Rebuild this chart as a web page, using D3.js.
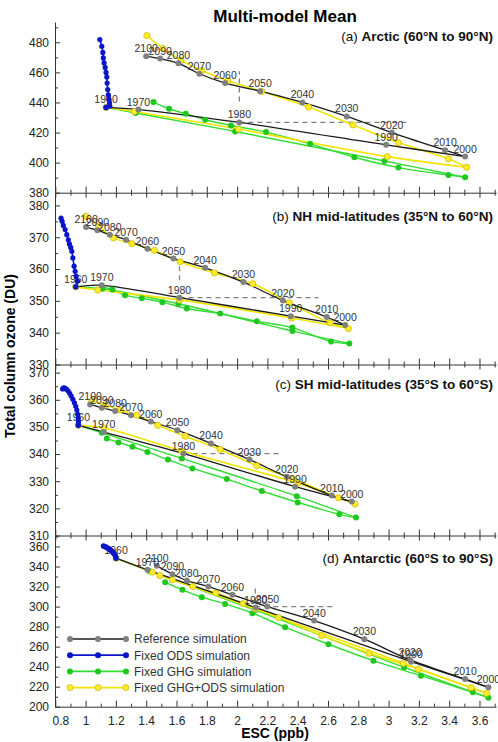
<!DOCTYPE html>
<html>
<head>
<meta charset="utf-8">
<script src="https://cdn.jsdelivr.net/npm/d3@7"></script>
<style>
    body { margin: 0; background: #fff; }
    text { font-family: "Liberation Sans", Arial, sans-serif; }
</style>
</head>
<body>
<div id="viz"></div>
<script>
let years = [1960, 1970, 1980, 1990, 2000, 2010, 2020, 2030, 2040, 2050, 2060, 2070, 2080, 2090, 2100];
let seriesNames = ['Reference simulation', 'Fixed ODS simulation', 'Fixed GHG simulation', 'Fixed GHG+ODS simulation'];

// [ESC (ppb), total column ozone (DU)] for each decade, 1960..2100

// (a) Arctic
let refA = [[1.135, 436.7], [1.349, 435.3], [2.015, 426.7], [2.984, 411.8], [3.505, 404], [3.373, 408.3], [3.021, 420], [2.724, 430.7],
    [2.431, 440], [2.152, 447.5], [1.921, 452.9], [1.751, 459.1], [1.613, 466], [1.492, 469.2], [1.40, 470.7]];
let odsA = [[1.135, 436.7], [1.16, 437.6], [1.158, 439.6], [1.154, 442.2], [1.150, 445], [1.146, 448.6], [1.142, 452.9], [1.140, 456.9],
    [1.135, 460], [1.129, 463.3], [1.122, 466.3], [1.117, 469.6], [1.114, 473.3], [1.107, 477.3], [1.094, 481.8]];
let ghgA = [[1.135, 436.7], [1.33, 433], [1.987, 420.7], [2.973, 401.1], [3.505, 390.3], [3.395, 391.8], [3.065, 396.7], [2.774, 403.6],
    [2.482, 412.5], [2.191, 420.3], [1.960, 424.7], [1.789, 428.5], [1.661, 432.5], [1.551, 435.8], [1.448, 440.3]];
let bothA = [[1.135, 436.7], [1.322, 434], [2.009, 422.3], [2.992, 404], [3.516, 396.9], [3.395, 402.5], [3.065, 413.3], [2.764, 425.1],
    [2.471, 436.9], [2.163, 447.3], [1.939, 454.5], [1.767, 461.3], [1.63, 468], [1.51, 476], [1.404, 484.5]];
let dashA = [[[2.015, 426.7], [3.13, 426.7]], [[2.015, 440.7], [2.015, 460.7]]];

// (b) NH mid-latitudes
let refB = [[0.935, 354.4], [1.107, 354.9], [1.62, 351], [2.354, 345.2], [2.713, 342.4], [2.592, 344.9], [2.302, 350.1], [2.042, 355.9],
    [1.789, 360.4], [1.58, 363.3], [1.408, 366.4], [1.267, 369.2], [1.16, 370.8], [1.078, 372.2], [1.003, 373.2]];
let odsB = [[0.935, 354.4], [0.946, 356.2], [0.937, 357.7], [0.931, 359.3], [0.924, 360.9], [0.916, 363.5], [0.909, 365.6], [0.902, 366.8],
    [0.893, 367.9], [0.886, 369.2], [0.876, 370.8], [0.865, 372.4], [0.853, 373.7], [0.845, 375], [0.838, 376]];
let ghgB = [[0.935, 354.4], [1.11, 353.8], [1.613, 349.1], [2.365, 340.5], [2.741, 336.6], [2.62, 337.2], [2.365, 341.6], [2.13, 343.6],
    [1.888, 346], [1.668, 347.6], [1.507, 349.6], [1.371, 350.8], [1.26, 351.8], [1.177, 353.6], [1.11, 354.3]];
let bothB = [[0.935, 354.4], [1.08, 353.4], [1.62, 350.3], [2.36, 344.6], [2.735, 341.3], [2.614, 343.1], [2.345, 349.4], [2.104, 355.4],
    [1.850, 358.8], [1.624, 362.3], [1.454, 365.9], [1.305, 368], [1.184, 369.8], [1.085, 373.5], [1.003, 376.6]];
let dashB = [[[1.62, 351], [2.537, 351]], [[1.62, 356.5], [1.62, 362]]];

// (c) SH mid-latitudes
let refC = [[0.952, 350.6], [1.12, 348.1], [1.646, 340.2], [2.383, 328], [2.757, 322.5], [2.625, 324.7], [2.328, 331.6], [2.081, 338],
    [1.828, 343.9], [1.606, 348.8], [1.43, 352], [1.30, 354.3], [1.195, 355.9], [1.107, 357.1], [1.03, 358.3]];
let odsC = [[0.952, 350.6], [0.953, 351.8], [0.952, 353.2], [0.948, 354.6], [0.942, 356.2], [0.935, 357.6], [0.926, 358.9], [0.916, 360.2],
    [0.905, 361.4], [0.895, 362.4], [0.884, 363.3], [0.873, 363.9], [0.863, 364.3], [0.855, 364.4], [0.848, 364.0]];
let ghgC = [[0.952, 350.6], [1.107, 347.9], [1.635, 338.4], [2.394, 324.5], [2.785, 316.6], [2.675, 317.8], [2.400, 322.2], [2.163, 326.4],
    [1.932, 330.8], [1.705, 334.7], [1.543, 338], [1.408, 340.8], [1.309, 342.7], [1.217, 344.3], [1.14, 345.7]];
let bothC = [[0.952, 350.6], [1.122, 349.6], [1.635, 341.1], [2.40, 329.3], [2.779, 321.6], [2.669, 323.9], [2.37, 330.8], [2.130, 335.7],
    [1.888, 341.7], [1.657, 346.6], [1.477, 350.6], [1.338, 354.3], [1.23, 356.3], [1.13, 358], [1.041, 359.6]];
let dashC = [[[1.646, 340.2], [2.273, 340.2]]];

// (d) Antarctic
let refD = [[1.201, 348.4], [1.408, 336.7], [2.123, 299], [3.149, 245], [3.659, 219.4], [3.505, 227.7], [3.142, 246.7], [2.840, 267.4],
    [2.508, 286], [2.2, 300], [1.969, 311.7], [1.811, 320], [1.668, 326], [1.573, 332.4], [1.47, 340.7]];
let odsD = [[1.201, 348.4], [1.198, 350], [1.195, 351.5], [1.19, 352.6], [1.184, 353.6], [1.178, 354.6], [1.172, 355.5], [1.166, 356.3],
    [1.16, 357.1], [1.153, 357.8], [1.146, 358.5], [1.139, 359.1], [1.132, 359.6], [1.125, 360.1], [1.117, 360.6]];
let ghgD = [[1.201, 348.4], [1.42, 335.5], [2.12, 296.5], [3.102, 239.4], [3.659, 209], [3.556, 214.4], [3.213, 231], [2.90, 246],
    [2.603, 262.4], [2.317, 279.4], [2.101, 293.4], [1.921, 302.7], [1.767, 309.4], [1.639, 316.7], [1.525, 324.4]];
let bothD = [[1.201, 348.4], [1.441, 334.4], [2.12, 297.8], [3.098, 243.4], [3.648, 213.4], [3.545, 219], [3.197, 237.4], [2.871, 253.4],
    [2.559, 271], [2.273, 289], [2.04, 303], [1.86, 313.5], [1.708, 320], [1.573, 326.7], [1.49, 331]];
let dashD = [[[2.12, 300], [2.63, 300]], [[2.12, 304], [2.12, 320]]];

let xMajor = d3.range(4, 19).map(i => i / 5);
let xMinor = d3.range(9, 38, 2).map(i => i / 10);

let width = 498, height = 742;
let xLeft = 55, xRight = 496;

let colors = {
    ref: '#1a1a1a', refDot: '#808080',
    ods: '#0a14c8',
    ghg: '#33dd33', ghgDot: '#1fc81f',
    both: '#f0e400', bothDot: '#ffec2a', bothStroke: '#c9b800',
    dash: '#808080'
};

let panels = [
    {tag: '(a) ', name: 'Arctic (60°N to 90°N)', ref: refA, ods: odsA, ghg: ghgA, both: bothA, dash: dashA,
        yDomain: [380, 493.5], yRange: [192.7, 22], yStep: 20, titleY: 41},
    {tag: '(b) ', name: 'NH mid-latitudes (35°N to 60°N)', ref: refB, ods: odsB, ghg: ghgB, both: bothB, dash: dashB,
        yDomain: [330, 384], yRange: [364.5, 192.7], yStep: 10, titleY: 221},
    {tag: '(c) ', name: 'SH mid-latitudes (35°S to 60°S)', ref: refC, ods: odsC, ghg: ghgC, both: bothC, dash: dashC,
        yDomain: [310, 373], yRange: [535.5, 364.5], yStep: 10, titleY: 389},
    {tag: '(d) ', name: 'Antarctic (60°S to 90°S)', ref: refD, ods: odsD, ghg: ghgD, both: bothD, dash: dashD,
        yDomain: [200, 371], yRange: [706.7, 535.5], yStep: 20, titleY: 563}
];

let x = d3.scaleLinear().domain([0.798, 3.709]).range([xLeft, xRight]);

let svg = d3.select('#viz')
    .append('svg')
    .attr('width', width)
    .attr('height', height);

svg.append('text')
    .attr('x', 285)
    .attr('y', 22)
    .attr('text-anchor', 'middle')
    .style('font-size', '17px')
    .style('font-weight', 'bold')
    .text('Multi-model Mean');

panels.forEach((p, i) => drawPanel(p, i === 0, i === panels.length - 1));

// axis titles
svg.append('text')
    .attr('transform', 'rotate(-90)')
    .attr('x', -356)
    .attr('y', 15)
    .attr('text-anchor', 'middle')
    .style('font-size', '14px')
    .style('font-weight', 'bold')
    .text('Total column ozone (DU)');

svg.append('text')
    .attr('x', 275)
    .attr('y', 738)
    .attr('text-anchor', 'middle')
    .style('font-size', '14px')
    .style('font-weight', 'bold')
    .text('ESC (ppb)');

drawLegend();


function styleAxis(sel) {
    sel.style('color', '#333')
        .attr('font-size', 12)
        .attr('font-family', '"Liberation Sans", Arial, sans-serif');
    sel.selectAll('text').attr('fill', '#222');
}

function drawPanel(p, isFirst, isLast) {
    let y = d3.scaleLinear().domain(p.yDomain).range(p.yRange);
    let g = svg.append('g');

    let straight = d3.line().x(d => x(d[0])).y(d => y(d[1]));
    let smooth = d3.line().x(d => x(d[0])).y(d => y(d[1])).curve(d3.curveCatmullRom.alpha(0.5));

    // axes: majors with labels, minors without
    let yMajor = d3.range(p.yDomain[0], p.yDomain[1] + 0.01, p.yStep);
    let yMinor = d3.range(p.yDomain[0] + p.yStep / 2, p.yDomain[1], p.yStep);

    g.append('g')
        .attr('transform', 'translate(' + xLeft + ',0)')
        .call(d3.axisLeft(y).tickValues(yMajor).tickSizeInner(-5).tickSizeOuter(0).tickPadding(6))
        .call(styleAxis);
    g.append('g')
        .attr('transform', 'translate(' + xLeft + ',0)')
        .call(d3.axisLeft(y).tickValues(yMinor).tickSizeInner(-3).tickSizeOuter(0).tickFormat(''))
        .call(styleAxis)
        .select('.domain').remove();

    let bottom = d3.axisBottom(x).tickValues(xMajor).tickSizeInner(-6).tickSizeOuter(0).tickPadding(10)
        .tickFormat(isLast ? (d => String(+d.toFixed(1))) : '');
    let bottomAxis = g.append('g')
        .attr('transform', 'translate(0,' + p.yRange[0] + ')')
        .call(bottom)
        .call(styleAxis);
    if (isLast) {
        bottomAxis.selectAll('.tick text').filter(d => d === 0.8).attr('dx', 5);
    }
    g.append('g')
        .attr('transform', 'translate(0,' + p.yRange[0] + ')')
        .call(d3.axisBottom(x).tickValues(xMinor).tickSizeInner(-3).tickSizeOuter(0).tickFormat(''))
        .call(styleAxis)
        .select('.domain').remove();

    if (!isFirst) {
        // ticks hanging down from the shared edge
        g.append('g')
            .attr('transform', 'translate(0,' + p.yRange[1] + ')')
            .call(d3.axisTop(x).tickValues(xMajor).tickSizeInner(-5).tickSizeOuter(0).tickFormat(''))
            .call(styleAxis)
            .select('.domain').remove();
        g.append('g')
            .attr('transform', 'translate(0,' + p.yRange[1] + ')')
            .call(d3.axisTop(x).tickValues(xMinor).tickSizeInner(-3).tickSizeOuter(0).tickFormat(''))
            .call(styleAxis)
            .select('.domain').remove();
    }

    // return-to-1980 guides
    g.selectAll('.dash')
        .data(p.dash)
        .enter()
        .append('path')
        .attr('d', straight)
        .attr('fill', 'none')
        .attr('stroke', colors.dash)
        .attr('stroke-width', 1.3)
        .attr('stroke-dasharray', '5,4');

    // lines: split at 2000 so the turn stays sharp
    let branches = s => [s.slice(0, 5), s.slice(4)];

    g.selectAll('.ghg-line')
        .data(branches(p.ghg))
        .enter()
        .append('path')
        .attr('d', smooth)
        .attr('fill', 'none')
        .attr('stroke', colors.ghg)
        .attr('stroke-width', 1.4);

    g.selectAll('.both-line')
        .data(branches(p.both))
        .enter()
        .append('path')
        .attr('d', smooth)
        .attr('fill', 'none')
        .attr('stroke', colors.both)
        .attr('stroke-width', 1.6);

    g.selectAll('.ref-line')
        .data(branches(p.ref))
        .enter()
        .append('path')
        .attr('d', smooth)
        .attr('fill', 'none')
        .attr('stroke', colors.ref)
        .attr('stroke-width', 1.3);

    // markers
    g.selectAll('.ghg-dot')
        .data(p.ghg)
        .enter()
        .append('circle')
        .attr('cx', d => x(d[0]))
        .attr('cy', d => y(d[1]))
        .attr('r', 3)
        .attr('fill', colors.ghgDot);

    g.selectAll('.both-dot')
        .data(p.both)
        .enter()
        .append('circle')
        .attr('cx', d => x(d[0]))
        .attr('cy', d => y(d[1]))
        .attr('r', 3.1)
        .attr('fill', colors.bothDot)
        .attr('stroke', colors.bothStroke)
        .attr('stroke-width', 0.7);

    g.selectAll('.ref-dot')
        .data(p.ref)
        .enter()
        .append('circle')
        .attr('cx', d => x(d[0]))
        .attr('cy', d => y(d[1]))
        .attr('r', 3)
        .attr('fill', colors.refDot);

    // year labels above each reference marker
    g.selectAll('.year')
        .data(p.ref)
        .enter()
        .append('text')
        .attr('x', d => x(d[0]))
        .attr('y', d => y(d[1]) - 4)
        .attr('text-anchor', 'middle')
        .attr('fill', '#333')
        .style('font-size', '10.5px')
        .text((d, i) => years[i]);

    // fixed ODS on top
    g.append('path')
        .attr('d', smooth(p.ods))
        .attr('fill', 'none')
        .attr('stroke', colors.ods)
        .attr('stroke-width', 1.6);

    g.selectAll('.ods-dot')
        .data(p.ods)
        .enter()
        .append('circle')
        .attr('cx', d => x(d[0]))
        .attr('cy', d => y(d[1]))
        .attr('r', 2.6)
        .attr('fill', colors.ods);

    let title = g.append('text')
        .attr('x', 493)
        .attr('y', p.titleY)
        .attr('text-anchor', 'end')
        .style('font-size', '13.5px')
        .attr('fill', '#111');
    title.append('tspan').text(p.tag);
    title.append('tspan').style('font-weight', 'bold').text(p.name);
}

function drawLegend() {
    let items = [
        {line: '#555', dot: colors.refDot, stroke: 'none'},
        {line: colors.ods, dot: colors.ods, stroke: 'none'},
        {line: colors.ghg, dot: colors.ghgDot, stroke: 'none'},
        {line: colors.both, dot: colors.bothDot, stroke: colors.bothStroke}
    ];
    let rowY = d3.scalePoint().domain(seriesNames).range([639, 687.6]);

    let rows = svg.selectAll('.legend')
        .data(seriesNames)
        .enter()
        .append('g')
        .attr('transform', d => 'translate(0,' + rowY(d) + ')');

    rows.append('line')
        .attr('x1', 70).attr('x2', 126)
        .attr('stroke', (d, i) => items[i].line)
        .attr('stroke-width', 1.8);

    rows.each(function (d, i) {
        d3.select(this).selectAll('circle')
            .data([70, 98, 126])
            .enter()
            .append('circle')
            .attr('cx', c => c)
            .attr('r', 3)
            .attr('fill', items[i].dot)
            .attr('stroke', items[i].stroke)
            .attr('stroke-width', 0.7);
    });

    rows.append('text')
        .attr('x', 134)
        .attr('y', 4.3)
        .attr('fill', '#333')
        .style('font-size', '12px')
        .text(d => d);
}
</script>
</body>
</html>
